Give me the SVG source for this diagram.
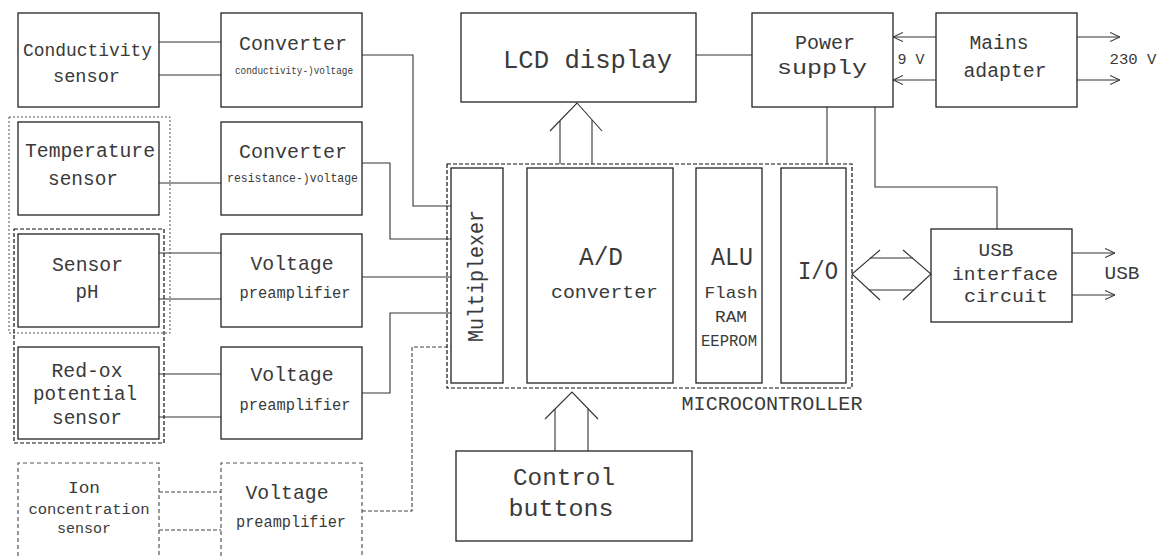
<svg xmlns="http://www.w3.org/2000/svg" width="1164" height="556" viewBox="0 0 1164 556">
<style>
.box{fill:none;stroke:#222;stroke-width:1.3}
.dbox{fill:none;stroke:#555;stroke-width:1.2;stroke-dasharray:4 3}
.dot{fill:none;stroke:#555;stroke-width:1;stroke-dasharray:2 2}
.mcu{fill:none;stroke:#111;stroke-width:1.2;stroke-dasharray:4 2}
.ln{fill:none;stroke:#333;stroke-width:1.1}
.dln{fill:none;stroke:#444;stroke-width:1.1;stroke-dasharray:4 2}
text{font-family:"Liberation Mono","DejaVu Sans Mono",monospace;fill:#3a3a3a;text-anchor:middle}
</style>
<defs>
<marker id="op" viewBox="0 0 10 10" refX="10" refY="5" markerWidth="10" markerHeight="10" markerUnits="userSpaceOnUse" orient="auto">
<path d="M0,0.5 L10,5 L0,9.5" fill="none" stroke="#333" stroke-width="1.1"/>
</marker>
</defs>
<rect width="1164" height="556" fill="#fff"/>

<g id="groupings">
<rect class="dot" x="9" y="117" width="161" height="216"/>
<rect class="mcu" x="14" y="229" width="150" height="214"/>
</g>

<g id="conductivity-sensor">
<rect class="box" x="18" y="13" width="141" height="94"/>
<text x="87.5" y="56" font-size="18" textLength="129" lengthAdjust="spacingAndGlyphs">Conductivity</text>
<text x="86.5" y="82" font-size="18" textLength="67" lengthAdjust="spacingAndGlyphs">sensor</text>
</g>
<g id="converter-1">
<rect class="box" x="221" y="13" width="141" height="94"/>
<text x="293" y="50" font-size="21" textLength="108" lengthAdjust="spacingAndGlyphs">Converter</text>
<text x="294" y="74" font-size="11" textLength="118" lengthAdjust="spacingAndGlyphs">conductivity-)voltage</text>
</g>
<g id="temperature-sensor">
<rect class="box" x="18" y="122" width="141" height="93"/>
<text x="90" y="157" font-size="20" textLength="130" lengthAdjust="spacingAndGlyphs">Temperature</text>
<text x="83" y="185" font-size="20" textLength="70" lengthAdjust="spacingAndGlyphs">sensor</text>
</g>
<g id="converter-2">
<rect class="box" x="221" y="122" width="141" height="93"/>
<text x="293" y="158" font-size="21" textLength="108" lengthAdjust="spacingAndGlyphs">Converter</text>
<text x="292.5" y="182" font-size="13" textLength="131" lengthAdjust="spacingAndGlyphs">resistance-)voltage</text>
</g>
<g id="ph-sensor">
<rect class="box" x="18" y="234" width="141" height="93"/>
<text x="87.5" y="271" font-size="21" textLength="71" lengthAdjust="spacingAndGlyphs">Sensor</text>
<text x="87" y="298" font-size="21" textLength="23" lengthAdjust="spacingAndGlyphs">pH</text>
</g>
<g id="preamp-1">
<rect class="box" x="221" y="234" width="141" height="93"/>
<text x="292" y="270" font-size="21" textLength="83" lengthAdjust="spacingAndGlyphs">Voltage</text>
<text x="295" y="298" font-size="16" textLength="111" lengthAdjust="spacingAndGlyphs">preamplifier</text>
</g>
<g id="redox-sensor">
<rect class="box" x="18" y="347" width="141" height="92"/>
<text x="87" y="377" font-size="20" textLength="71" lengthAdjust="spacingAndGlyphs">Red-ox</text>
<text x="85" y="400" font-size="20" textLength="104" lengthAdjust="spacingAndGlyphs">potential</text>
<text x="87" y="424" font-size="20" textLength="70" lengthAdjust="spacingAndGlyphs">sensor</text>
</g>
<g id="preamp-2">
<rect class="box" x="221" y="347" width="141" height="92"/>
<text x="292" y="381" font-size="21" textLength="83" lengthAdjust="spacingAndGlyphs">Voltage</text>
<text x="295" y="410" font-size="16" textLength="111" lengthAdjust="spacingAndGlyphs">preamplifier</text>
</g>
<g id="ion-sensor">
<path class="dbox" d="M18,556 V463 H159 V556"/>
<text x="84" y="493" font-size="17" textLength="32" lengthAdjust="spacingAndGlyphs">Ion</text>
<text x="89" y="514" font-size="14" textLength="121" lengthAdjust="spacingAndGlyphs">concentration</text>
<text x="84" y="533" font-size="14" textLength="54" lengthAdjust="spacingAndGlyphs">sensor</text>
</g>
<g id="preamp-3">
<path class="dbox" d="M221,556 V463 H362 V556"/>
<text x="287" y="499" font-size="21" textLength="83" lengthAdjust="spacingAndGlyphs">Voltage</text>
<text x="291" y="527" font-size="16" textLength="110" lengthAdjust="spacingAndGlyphs">preamplifier</text>
</g>

<g id="lcd-display">
<rect class="box" x="461" y="13" width="235" height="89"/>
<text x="587.5" y="68" font-size="26" textLength="169" lengthAdjust="spacingAndGlyphs">LCD display</text>
</g>
<g id="microcontroller">
<rect class="mcu" x="447" y="164" width="405" height="224"/>
<text x="772" y="410" font-size="20" textLength="181" lengthAdjust="spacingAndGlyphs">MICROCONTROLLER</text>
</g>
<g id="multiplexer">
<rect class="box" x="451" y="168" width="52" height="215"/>
<text transform="translate(483,276) rotate(-90)" x="0" y="0" font-size="22" textLength="132" lengthAdjust="spacingAndGlyphs">Multiplexer</text>
</g>
<g id="ad-converter">
<rect class="box" x="527" y="168" width="146" height="215"/>
<text x="601" y="265" font-size="26" textLength="44" lengthAdjust="spacingAndGlyphs">A/D</text>
<text x="604.5" y="298" font-size="18" textLength="107" lengthAdjust="spacingAndGlyphs">converter</text>
</g>
<g id="alu">
<rect class="box" x="696" y="168" width="66" height="215"/>
<text x="732" y="265" font-size="26" textLength="42" lengthAdjust="spacingAndGlyphs">ALU</text>
<text x="731" y="298" font-size="17" textLength="53" lengthAdjust="spacingAndGlyphs">Flash</text>
<text x="731" y="322" font-size="17" textLength="32" lengthAdjust="spacingAndGlyphs">RAM</text>
<text x="729" y="346" font-size="17" textLength="56" lengthAdjust="spacingAndGlyphs">EEPROM</text>
</g>
<g id="io">
<rect class="box" x="781" y="168" width="65" height="215"/>
<text x="818" y="279" font-size="26" textLength="40" lengthAdjust="spacingAndGlyphs">I/O</text>
</g>
<g id="control-buttons">
<rect class="box" x="456" y="451" width="236" height="90"/>
<text x="564" y="485" font-size="24" textLength="102" lengthAdjust="spacingAndGlyphs">Control</text>
<text x="561" y="516" font-size="24" textLength="105" lengthAdjust="spacingAndGlyphs">buttons</text>
</g>
<g id="power-supply">
<rect class="box" x="752" y="13" width="141" height="94"/>
<text x="825" y="49" font-size="20" textLength="60" lengthAdjust="spacingAndGlyphs">Power</text>
<text x="822" y="74" font-size="20" textLength="90" lengthAdjust="spacingAndGlyphs">supply</text>
</g>
<g id="mains-adapter">
<rect class="box" x="936" y="13" width="141" height="94"/>
<text x="999" y="49" font-size="20" textLength="59" lengthAdjust="spacingAndGlyphs">Mains</text>
<text x="1005" y="77" font-size="20" textLength="83" lengthAdjust="spacingAndGlyphs">adapter</text>
</g>
<g id="usb-interface">
<rect class="box" x="931" y="229" width="141" height="93"/>
<text x="996" y="256" font-size="19" textLength="35" lengthAdjust="spacingAndGlyphs">USB</text>
<text x="1005" y="280" font-size="19" textLength="106" lengthAdjust="spacingAndGlyphs">interface</text>
<text x="1006" y="302" font-size="19" textLength="84" lengthAdjust="spacingAndGlyphs">circuit</text>
</g>

<g id="connectors">
<path class="ln" d="M159,42 H221 M159,75 H221 M159,183 H221 M159,253 H221 M159,299 H221 M159,374 H221 M159,417 H221"/>
<path class="dln" d="M159,492 H221 M159,530 H221"/>
<polyline class="ln" points="362,55 413,55 413,206 451,206"/>
<polyline class="ln" points="362,163 390,163 390,239 451,239"/>
<polyline class="ln" points="362,277 451,277"/>
<polyline class="ln" points="362,393 390,393 390,313 451,313"/>
<polyline class="dln" points="362,511 412,511 412,347 451,347"/>
<path class="ln" d="M696,55 H752"/>
<path class="ln" d="M827,107 V164"/>
<polyline class="ln" points="875,107 875,187 997,187 997,229"/>
<path class="ln" d="M560,164 V121 M592,164 V120"/>
<polyline class="ln" points="550,131 577,103 602,131"/>
<path class="ln" d="M555,451 V409 M588,451 V409"/>
<polyline class="ln" points="545,419 572,392 598,419"/>
<polyline class="ln" points="880,250 852,274 880,300"/>
<polyline class="ln" points="903,250 931,274 903,300"/>
<path class="ln" d="M870,258 H913 M869,290 H914"/>
<path class="ln" d="M936,37 H893" marker-end="url(#op)"/>
<path class="ln" d="M936,80 H893" marker-end="url(#op)"/>
<path class="ln" d="M1077,37 H1120" marker-end="url(#op)"/>
<path class="ln" d="M1077,80 H1120" marker-end="url(#op)"/>
<path class="ln" d="M1072,253 H1115" marker-end="url(#op)"/>
<path class="ln" d="M1072,295 H1115" marker-end="url(#op)"/>
<text x="911" y="64" font-size="14" textLength="27" lengthAdjust="spacingAndGlyphs">9 V</text>
<text x="1133" y="64" font-size="14" textLength="47" lengthAdjust="spacingAndGlyphs">230 V</text>
<text x="1122" y="279" font-size="19" textLength="35" lengthAdjust="spacingAndGlyphs">USB</text>
</g>
</svg>
